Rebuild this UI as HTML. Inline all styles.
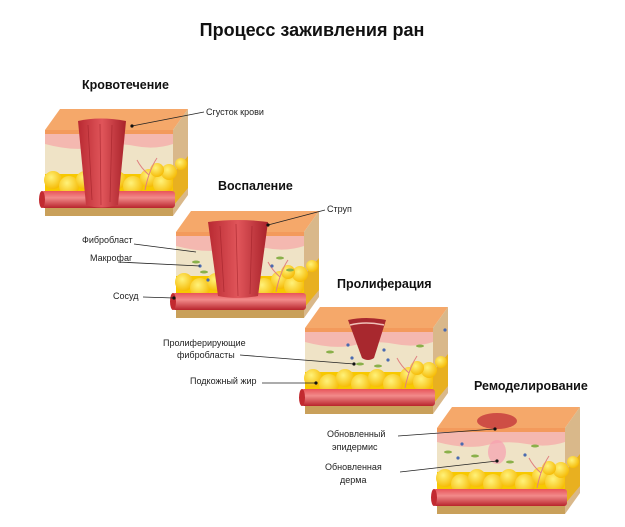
<!DOCTYPE html>
<html><head><meta charset="utf-8"><style>
html,body{margin:0;padding:0;background:#fff;}
svg{display:block;font-family:"Liberation Sans","DejaVu Sans",sans-serif;}
</style></head><body>
<svg width="625" height="527" viewBox="0 0 625 527" xmlns="http://www.w3.org/2000/svg">
<defs>
<linearGradient id="ves" x1="0" y1="0" x2="0" y2="1">
<stop offset="0" stop-color="#e8545a"/><stop offset="0.4" stop-color="#f28a8a"/><stop offset="1" stop-color="#b8242c"/></linearGradient>
<linearGradient id="clot" x1="0" y1="0" x2="1" y2="0">
<stop offset="0" stop-color="#b92a32"/><stop offset="0.5" stop-color="#e0555a"/><stop offset="1" stop-color="#a8222a"/></linearGradient>
<radialGradient id="fat" cx="0.4" cy="0.35" r="0.7"><stop offset="0" stop-color="#fff27a"/><stop offset="1" stop-color="#f5b800"/></radialGradient>
<g id="blk">
  <polygon points="0,0 15,-21 143,-21 128,0" fill="#f5a86a"/>
  <polygon points="128,0 143,-21 143,65 128,86" fill="#d9b88a"/>
  <polygon points="128,44 143,26 143,58 128,76" fill="#e8b020"/>
  <rect x="0" y="0" width="128" height="86" fill="#efe3c6"/>
  <rect x="0" y="0" width="128" height="4" fill="#f39a5c"/>
  <path d="M0,4 H128 V14 Q110,20 90,16 T50,17 T0,14 Z" fill="#f4b8b0"/>
  <rect x="0" y="44" width="128" height="28" fill="#f7c800"/>
  <g fill="url(#fat)">
   <circle cx="8" cy="50" r="9"/><circle cx="24" cy="56" r="10"/><circle cx="40" cy="50" r="9"/><circle cx="56" cy="56" r="10"/>
   <circle cx="72" cy="50" r="9"/><circle cx="88" cy="56" r="10"/><circle cx="104" cy="48" r="9"/><circle cx="118" cy="54" r="10"/>
   <circle cx="124" cy="42" r="8"/><circle cx="112" cy="40" r="7"/><circle cx="136" cy="34" r="6"/>
  </g>
  <rect x="0" y="76" width="128" height="10" fill="#c9a05a"/>
  <rect x="-4" y="61" width="134" height="17" rx="3" fill="url(#ves)"/>
  <ellipse cx="-3" cy="69.5" rx="3" ry="8.5" fill="#c22a30"/>
  <path d="M100,60 Q104,40 112,28 M104,45 Q96,38 92,30" stroke="#e08080" stroke-width="1" fill="none"/>
</g>
</defs>

<text x="312" y="36" font-size="18" font-weight="bold" text-anchor="middle" fill="#111">Процесс заживления ран</text>

<!-- Block 1 -->
<text x="82" y="89" font-size="12.5" font-weight="bold" fill="#111">Кровотечение</text>
<use href="#blk" x="45" y="130"/>
<path d="M78,121 Q100,116 126,121 L118,205 Q100,210 86,205 Z" fill="url(#clot)"/>
<path d="M88,125 L92,200 M100,124 L101,205 M112,125 L110,202" stroke="#9c1e26" stroke-width="0.8" fill="none" opacity="0.6"/>
<line x1="132" y1="126" x2="204" y2="112" stroke="#222" stroke-width="0.8"/><circle cx="132" cy="126" r="1.6" fill="#111"/>
<text x="206" y="115" font-size="9" fill="#222">Сгусток крови</text>

<!-- Block 2 -->
<text x="218" y="190" font-size="12.5" font-weight="bold" fill="#111">Воспаление</text>
<use href="#blk" x="176" y="232"/>
<path d="M208,222 Q238,218 268,222 L258,296 Q238,300 218,296 Z" fill="url(#clot)"/>
<path d="M220,226 L224,292 M236,224 L238,296 M252,226 L250,294" stroke="#9c1e26" stroke-width="0.8" fill="none" opacity="0.6"/>
<g fill="#8ab04a"><ellipse cx="196" cy="262" rx="4" ry="1.5"/><ellipse cx="204" cy="272" rx="4" ry="1.5"/><ellipse cx="280" cy="258" rx="4" ry="1.5"/><ellipse cx="290" cy="270" rx="4" ry="1.5"/></g>
<g fill="#4a6ab0"><circle cx="200" cy="266" r="1.6"/><circle cx="272" cy="266" r="1.6"/><circle cx="208" cy="280" r="1.6"/></g>
<line x1="268" y1="225" x2="325" y2="210" stroke="#222" stroke-width="0.8"/><circle cx="268" cy="225" r="1.6" fill="#111"/>
<text x="327" y="212" font-size="9" fill="#222">Струп</text>
<text x="82" y="243" font-size="9" fill="#222">Фибробласт</text>
<line x1="134" y1="244" x2="196" y2="252" stroke="#222" stroke-width="0.8"/>
<text x="90" y="261" font-size="9" fill="#222">Макрофаг</text>
<line x1="118" y1="262" x2="200" y2="266" stroke="#222" stroke-width="0.8"/>
<text x="113" y="299" font-size="9" fill="#222">Сосуд</text>
<line x1="143" y1="297" x2="174" y2="298" stroke="#222" stroke-width="0.8"/><circle cx="174" cy="298" r="1.6" fill="#111"/>

<!-- Block 3 -->
<text x="337" y="288" font-size="12.5" font-weight="bold" fill="#111">Пролиферация</text>
<use href="#blk" x="305" y="328"/>
<path d="M348,320 Q366,316 386,320 L374,358 Q368,362 362,358 Z" fill="#a8282e"/>
<path d="M350,325 Q366,321 384,325" stroke="#f0c0b8" stroke-width="1.5" fill="none"/>
<g fill="#4a6ab0"><circle cx="348" cy="345" r="1.6"/><circle cx="352" cy="358" r="1.6"/><circle cx="384" cy="350" r="1.6"/><circle cx="388" cy="360" r="1.6"/><circle cx="445" cy="330" r="1.6"/></g>
<g fill="#8ab04a"><ellipse cx="330" cy="352" rx="4" ry="1.5"/><ellipse cx="360" cy="364" rx="4" ry="1.5"/><ellipse cx="378" cy="366" rx="4" ry="1.5"/><ellipse cx="420" cy="346" rx="4" ry="1.5"/></g>
<text x="163" y="346" font-size="9" fill="#222">Пролиферирующие</text>
<text x="177" y="358" font-size="9" fill="#222">фибробласты</text>
<line x1="240" y1="355" x2="354" y2="364" stroke="#222" stroke-width="0.8"/><circle cx="354" cy="364" r="1.6" fill="#111"/>
<text x="190" y="384" font-size="9" fill="#222">Подкожный жир</text>
<line x1="262" y1="383" x2="316" y2="383" stroke="#222" stroke-width="0.8"/><circle cx="316" cy="383" r="1.6" fill="#111"/>

<!-- Block 4 -->
<text x="474" y="390" font-size="12.5" font-weight="bold" fill="#111">Ремоделирование</text>
<use href="#blk" x="437" y="428"/>
<ellipse cx="497" cy="421" rx="20" ry="8" fill="#c0303a" opacity="0.75"/>
<ellipse cx="497" cy="452" rx="9" ry="12" fill="#f7a0b0" opacity="0.7"/>
<g fill="#4a6ab0"><circle cx="462" cy="444" r="1.6"/><circle cx="458" cy="458" r="1.6"/><circle cx="525" cy="455" r="1.6"/></g>
<g fill="#8ab04a"><ellipse cx="448" cy="452" rx="4" ry="1.5"/><ellipse cx="475" cy="456" rx="4" ry="1.5"/><ellipse cx="535" cy="446" rx="4" ry="1.5"/><ellipse cx="510" cy="462" rx="4" ry="1.5"/></g>
<text x="327" y="437" font-size="9" fill="#222">Обновленный</text>
<text x="332" y="450" font-size="9" fill="#222">эпидермис</text>
<line x1="398" y1="436" x2="495" y2="429" stroke="#222" stroke-width="0.8"/><circle cx="495" cy="429" r="1.6" fill="#111"/>
<text x="325" y="470" font-size="9" fill="#222">Обновленная</text>
<text x="340" y="483" font-size="9" fill="#222">дерма</text>
<line x1="400" y1="472" x2="497" y2="461" stroke="#222" stroke-width="0.8"/><circle cx="497" cy="461" r="1.6" fill="#111"/>
</svg>
</body></html>
